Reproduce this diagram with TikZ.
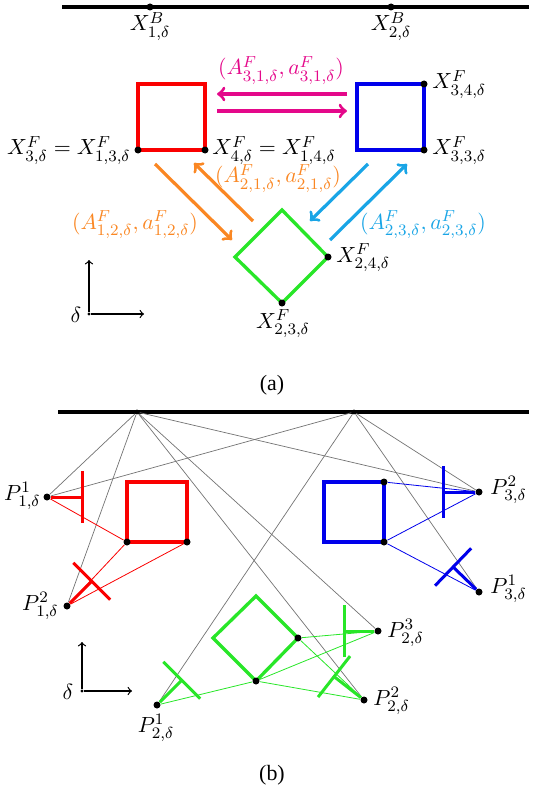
\documentclass[11pt,tikz,border=0pt]{standalone}
\usepackage{amsmath,amssymb}
\usepackage[no-math]{fontspec}
\newfontfamily\capfont{Liberation Serif}
\definecolor{sq_red}{RGB}{250,0,0}
\definecolor{sq_blue}{RGB}{0,0,235}
\definecolor{sq_green}{RGB}{40,230,40}
\definecolor{ar_mag}{RGB}{228,8,138}
\definecolor{ar_orng}{RGB}{250,135,35}
\definecolor{ar_cyan}{RGB}{25,165,230}
\newcommand\wall[4]{% colour, point, angle, stem length
  \draw[blade,#1] (#2) -- ++(#3:#4) coordinate (#2w);
  \draw[blade,#1] (#2w) ++(#3+90:26) -- ++(#3-90:52);}

\begin{document}
\begin{tikzpicture}[x=0.5pt,y=0.5pt]
    \tikzstyle{vtx}=[circle,fill=black,inner sep=0pt,minimum size=3.5pt]
    \tikzstyle{vtxs}=[style=vtx,minimum size=2.4pt]
    \tikzstyle{orig}=[style=vtx,minimum size=1.6pt]
    \tikzstyle{lbl}=[inner sep=0pt,text=black]
    \tikzstyle{frame}=[line width=1.65pt]
    \tikzstyle{flow}=[->,line width=1.6pt]
    \tikzstyle{ray}=[black!55,line width=0.35pt]
    \tikzstyle{link}=[line width=0.4pt]
    \tikzstyle{blade}=[line width=1.5pt]
    \tikzstyle{axis}=[->,line width=0.6pt]
    \useasboundingbox (0,0) rectangle (534,-792);

    % (a)
    \draw[line width=1.6pt] (62,-7) -- (529,-7);
    \node[vtx] (B1) at (150,-7) {};
    \node[vtx] (B2) at (391,-7) {};
    \node[lbl,anchor=base] (lB1) at (150,-31) {$X^B_{1,\delta}$};
    \node[lbl,anchor=base] (lB2) at (391,-31) {$X^B_{2,\delta}$};

    \draw[frame,sq_red] (138,-84) rectangle (205,-150);
    \node[vtx] (R1) at (138,-150) {};
    \node[vtx] (R2) at (205,-150) {};
    \node[lbl,anchor=base east] (lR1) at (131,-155) {$X^F_{3,\delta}=X^F_{1,3,\delta}$};
    \node[lbl,anchor=base west] (lR2) at (212,-155) {$X^F_{4,\delta}=X^F_{1,4,\delta}$};

    \draw[frame,sq_blue] (357,-84) rectangle (424,-150);
    \node[vtx] (Q1) at (424,-84) {};
    \node[vtx] (Q2) at (424,-150) {};
    \node[lbl,anchor=base west] (lQ1) at (432,-89) {$X^F_{3,4,\delta}$};
    \node[lbl,anchor=base west] (lQ2) at (432,-155) {$X^F_{3,3,\delta}$};

    \draw[frame,sq_green] (282,-210) -- (328,-257) -- (282,-303) -- (235,-257) -- cycle;
    \node[vtx] (G1) at (328,-257) {};
    \node[vtx] (G2) at (282,-303) {};
    \node[lbl,anchor=base west] (lG1) at (336,-262) {$X^F_{2,4,\delta}$};
    \node[lbl,anchor=base] (lG2) at (283,-328) {$X^F_{2,3,\delta}$};

    % flows between the blocks
    \coordinate (M1) at (347,-94);
    \coordinate (M2) at (217,-94);
    \coordinate (M3) at (217,-111);
    \coordinate (M4) at (347,-111);
    \coordinate (O1) at (155,-164);
    \coordinate (O2) at (232,-240);
    \coordinate (O3) at (253,-221);
    \coordinate (O4) at (194,-163);
    \coordinate (C1) at (368,-164);
    \coordinate (C2) at (310,-221);
    \coordinate (C3) at (330,-240);
    \coordinate (C4) at (407,-164);
    \draw[flow,ar_mag] (M1) -- (M2);
    \draw[flow,ar_mag] (M3) -- (M4);
    \draw[flow,ar_orng] (O1) -- (O2);
    \draw[flow,ar_orng] (O3) -- (O4);
    \draw[flow,ar_cyan] (C1) -- (C2);
    \draw[flow,ar_cyan] (C3) -- (C4);
    \node[lbl,anchor=base,text=ar_mag] (lM) at (281,-75) {$(A^F_{3,1,\delta},a^F_{3,1,\delta})$};
    \node[lbl,anchor=base,text=ar_orng] (lO1) at (278,-183) {$(A^F_{2,1,\delta},a^F_{2,1,\delta})$};
    \node[lbl,anchor=base,text=ar_orng] (lO2) at (135,-229) {$(A^F_{1,2,\delta},a^F_{1,2,\delta})$};
    \node[lbl,anchor=base,text=ar_cyan] (lC) at (423,-229) {$(A^F_{2,3,\delta},a^F_{2,3,\delta})$};

    \node[orig] (A0) at (89,-314) {};
    \coordinate (Ay) at (89,-260);
    \coordinate (Ax) at (144,-314);
    \draw[axis] (A0) -- (Ay);
    \draw[axis] (A0) -- (Ax);
    \node[lbl,anchor=base] (lA0) at (76,-322) {$\delta$};

    \node[lbl,anchor=base,font=\capfont] (capA) at (272,-390) {(a)};

    % (b)
    \draw[line width=1.6pt] (58,-412) -- (529,-412);
    \draw[frame,sq_red] (127,-482) rectangle (187,-542);
    \draw[frame,sq_blue] (324,-482) rectangle (384,-542);
    \draw[frame,sq_green] (256,-596) -- (298,-638) -- (256,-681) -- (213,-638) -- cycle;

    \node[vtxs] (D1) at (137,-412) {};
    \node[vtxs] (D2) at (354,-412) {};
    \node[vtx] (R3) at (127,-542) {};
    \node[vtx] (R4) at (187,-542) {};
    \node[vtx] (Q3) at (384,-482) {};
    \node[vtx] (Q4) at (384,-542) {};
    \node[vtx] (G3) at (298,-638) {};
    \node[vtx] (G4) at (256,-681) {};
    \node[vtx] (P11) at (47,-497) {};
    \node[vtx] (P12) at (67,-606) {};
    \node[vtx] (P21) at (157,-705) {};
    \node[vtx] (P22) at (364,-700) {};
    \node[vtx] (P23) at (378,-631) {};
    \node[vtx] (P31) at (479,-592) {};
    \node[vtx] (P32) at (479,-492) {};

    \node[lbl,anchor=base east] (lP11) at (41,-500) {$P^1_{1,\delta}$};
    \node[lbl,anchor=base east] (lP12) at (59,-610) {$P^2_{1,\delta}$};
    \node[lbl,anchor=base] (lP21) at (156,-732) {$P^1_{2,\delta}$};
    \node[lbl,anchor=base west] (lP22) at (373,-705) {$P^2_{2,\delta}$};
    \node[lbl,anchor=base west] (lP23) at (387,-637) {$P^3_{2,\delta}$};
    \node[lbl,anchor=base west] (lP31) at (490,-593) {$P^1_{3,\delta}$};
    \node[lbl,anchor=base west] (lP32) at (490,-494) {$P^2_{3,\delta}$};

    \path[ray]
     (D1) edge (P11)
     (D1) edge (P12)
     (D1) edge (P22)
     (D1) edge (P23)
     (D1) edge (P32)
     (D2) edge (P11)
     (D2) edge (P21)
     (D2) edge (P32)
     (D2) edge (P31);

    \path[link]
     (P11) edge[sq_red] (R3)
     (P12) edge[sq_red] (R3)
     (P12) edge[sq_red] (R4)
     (P32) edge[sq_blue] (Q3)
     (P32) edge[sq_blue] (Q4)
     (P31) edge[sq_blue] (Q4)
     (P21) edge[sq_green] (G4)
     (P22) edge[sq_green] (G4)
     (P23) edge[sq_green] (G4)
     (P23) edge[sq_green] (G3)
     (P22) edge[sq_green] (G3);

    \wall{sq_red}{P11}{0}{35}
    \wall{sq_red}{P12}{45}{35}
    \wall{sq_blue}{P32}{180}{36}
    \wall{sq_blue}{P31}{136}{36}
    \wall{sq_green}{P21}{45}{35}
    \wall{sq_green}{P22}{142}{38}
    \wall{sq_green}{P23}{180}{34}

    \node[orig] (B0) at (82,-691) {};
    \coordinate (By) at (82,-642);
    \coordinate (Bx) at (132,-691);
    \draw[axis] (B0) -- (By);
    \draw[axis] (B0) -- (Bx);
    \node[lbl,anchor=base] (lB0) at (68,-699) {$\delta$};

    \node[lbl,anchor=base,font=\capfont] (capB) at (272,-780) {(b)};
\end{tikzpicture}
\end{document}
